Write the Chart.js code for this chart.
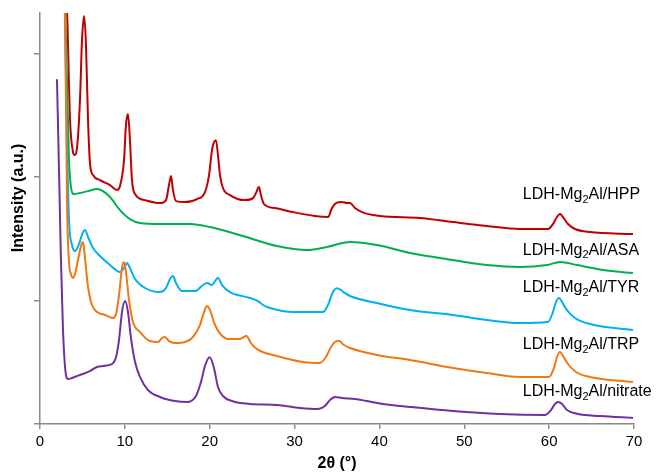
<!DOCTYPE html>
<html>
<head>
<meta charset="utf-8">
<script src="https://cdn.jsdelivr.net/npm/chart.js@4.4.1/dist/chart.umd.min.js"></script>
<style>
  html, body { margin: 0; padding: 0; background: #fff; }
  #wrap { width: 656px; height: 473px; }
</style>
</head>
<body>
<div id="wrap"><canvas id="xrdChart" width="656" height="473"></canvas></div>
<script>
// XRD patterns, [2theta (deg), intensity (a.u., stacked offsets included)]
const hpp = [
    [2.95, 3500], [3.18, 3353], [3.54, 2462], [3.89, 2203], [4.07, 2179], [4.36, 2236],
    [4.71, 2624], [4.95, 3110], [5.19, 3305], [5.42, 3070], [5.66, 2462], [5.89, 2114],
    [6.25, 2017], [7.07, 1976], [8.25, 1936], [9.07, 1895], [9.43, 1928], [9.9, 2138],
    [10.13, 2422], [10.37, 2511], [10.6, 2300], [10.84, 1976], [11.2, 1863], [12.37, 1814],
    [14.14, 1790], [14.85, 1814], [15.2, 1936], [15.44, 2009], [15.67, 1895], [16.03, 1806],
    [17.09, 1798], [18.5, 1822], [19.44, 1879], [19.92, 2017], [20.27, 2219], [20.5, 2284],
    [20.74, 2300], [20.97, 2179], [21.21, 2017], [21.56, 1912], [22.39, 1855], [24.16, 1814],
    [25.1, 1830], [25.45, 1871], [25.8, 1920], [26.04, 1855], [26.4, 1782], [27.69, 1750],
    [29.81, 1717], [32.4, 1685], [33.94, 1677], [34.41, 1750], [34.88, 1790], [35.59, 1798],
    [36.18, 1790], [36.53, 1790], [37.12, 1750], [37.95, 1717], [40.07, 1685], [44.78, 1669],
    [48.67, 1636], [52.67, 1604], [56.56, 1580], [59.86, 1580], [60.45, 1620], [60.92, 1677],
    [61.28, 1701], [61.63, 1677], [62.22, 1620], [63.05, 1580], [64.81, 1555], [69.88, 1539]
];
const asa = [
    [2.95, 3394], [3.18, 2786], [3.42, 2138], [3.65, 1920], [4.0, 1863], [4.71, 1871],
    [5.66, 1887], [6.72, 1904], [7.42, 1887], [8.25, 1839], [9.43, 1733], [10.6, 1660],
    [11.78, 1628], [14.14, 1620], [17.68, 1620], [20.03, 1596], [23.92, 1523], [27.93, 1442],
    [31.46, 1409], [33.82, 1434], [36.53, 1474], [39.71, 1450], [43.6, 1385], [47.14, 1345],
    [52.67, 1288], [56.56, 1272], [59.75, 1288], [61.28, 1312], [63.28, 1288], [66.34, 1247],
    [69.88, 1223]
];
const tyr = [
    [2.9, 3450], [3.18, 2301], [3.42, 1653], [3.77, 1450], [4.12, 1401], [4.6, 1458],
    [5.07, 1555], [5.3, 1571], [5.66, 1515], [6.25, 1426], [7.07, 1361], [8.25, 1288],
    [9.43, 1231], [9.9, 1264], [10.25, 1304], [10.6, 1264], [11.2, 1175], [12.37, 1102],
    [14.14, 1069], [14.85, 1102], [15.32, 1175], [15.67, 1199], [16.03, 1142], [16.73, 1077],
    [18.27, 1077], [19.21, 1126], [19.68, 1142], [20.27, 1126], [20.62, 1158], [20.98, 1183],
    [21.45, 1126], [22.39, 1069], [24.75, 1021], [25.69, 996], [26.28, 964], [27.1, 940],
    [29.81, 907], [33.35, 907], [33.94, 964], [34.41, 1053], [34.95, 1100], [35.4, 1088],
    [35.9, 1062], [36.53, 1037], [39.71, 980], [43.6, 923], [48.67, 883], [52.67, 842],
    [56.56, 818], [59.86, 826], [60.45, 907], [60.8, 988], [61.16, 1021], [61.52, 988],
    [62.1, 923], [63.05, 859], [64.81, 810], [69.88, 761]
];
const trp = [
    [2.95, 3450], [3.18, 1815], [3.42, 1312], [3.65, 1215], [3.89, 1183], [4.12, 1215],
    [4.48, 1328], [4.83, 1442], [5.07, 1474], [5.3, 1345], [5.66, 1110], [6.13, 964],
    [6.72, 907], [7.66, 883], [8.6, 859], [8.96, 891], [9.31, 1045], [9.66, 1264],
    [9.9, 1312], [10.13, 1231], [10.49, 1004], [10.96, 826], [11.78, 745], [12.96, 672],
    [13.91, 664], [14.38, 697], [14.73, 705], [15.2, 672], [15.91, 656], [17.09, 664],
    [18.03, 705], [18.85, 802], [19.33, 907], [19.68, 956], [20.03, 923], [20.5, 826],
    [21.09, 745], [22.15, 689], [23.57, 689], [24.04, 705], [24.3, 716], [24.86, 656],
    [25.57, 607], [27.93, 551], [31.0, 502], [32.99, 494], [33.7, 543], [34.29, 624],
    [34.76, 664], [35.2, 675], [35.82, 640], [36.53, 616], [39.71, 559], [43.6, 518],
    [48.67, 454], [52.67, 413], [56.56, 381], [59.98, 381], [60.57, 454], [60.92, 543],
    [61.28, 583], [61.63, 551], [62.22, 486], [63.16, 421], [64.81, 381], [69.88, 340]
];
const nitrate = [
    [2.0, 2794], [2.24, 2057], [2.47, 1328], [2.71, 761], [3.06, 397], [3.3, 364],
    [3.77, 373], [4.71, 397], [5.89, 429], [6.72, 462], [7.42, 470], [8.48, 486],
    [8.96, 543], [9.31, 680], [9.66, 907], [10.02, 996], [10.37, 907], [10.72, 697],
    [11.2, 502], [11.78, 381], [12.73, 275], [14.14, 219], [15.91, 186], [17.32, 178],
    [18.38, 227], [18.97, 340], [19.44, 470], [20.0, 540], [20.5, 454],
    [20.97, 300], [21.56, 227], [22.63, 186], [24.75, 162], [27.93, 154], [30.64, 130],
    [32.76, 122], [33.58, 146], [34.17, 194], [34.76, 219], [35.59, 211], [37.12, 203],
    [38.53, 186], [40.42, 162], [43.6, 138], [48.67, 105], [54.21, 81], [59.51, 73],
    [60.22, 113], [60.69, 162], [61.04, 178], [61.52, 162], [62.1, 113], [63.4, 81],
    [66.0, 65], [69.88, 49]
];

const sampleNames = ['HPP', 'ASA', 'TYR', 'TRP', 'nitrate'];
const sampleData = [hpp, asa, tyr, trp, nitrate];
const sampleColors = ['#C00000', '#00B050', '#00B0F0', '#F07814', '#7030A0'];
// where each name sits, in axis units [2theta, intensity]
const labelAt = [[56.9, 1855], [56.9, 1409], [56.9, 1102], [56.9, 640], [56.9, 259]];

const xTicks = [0, 10, 20, 30, 40, 50, 60, 70];
const yTicks = [0, 1000, 2000, 3000];

const FONT = '"Liberation Sans", Arial, Helvetica, sans-serif';
const AXIS_GREY = '#8a8a8a';

// draw bottom series first so the upper ones stay on top
const datasets = sampleNames.map((name, i) => ({
    label: 'LDH-Mg\u2082Al/' + name,
    data: sampleData[i].map(p => ({ x: p[0], y: p[1] })),
    borderColor: sampleColors[i],
    borderWidth: 2,
    pointRadius: 0,
    cubicInterpolationMode: 'monotone',
    fill: false
})).reverse();

const sampleLabels = {
    id: 'sampleLabels',
    afterDatasetsDraw(chart) {
        const { ctx, scales } = chart;
        ctx.save();
        ctx.fillStyle = '#000';
        ctx.textBaseline = 'middle';
        ctx.textAlign = 'left';
        sampleNames.forEach((name, i) => {
            let x = scales.x.getPixelForValue(labelAt[i][0]);
            const y = scales.y.getPixelForValue(labelAt[i][1]);
            ctx.font = '16px ' + FONT;
            ctx.fillText('LDH-Mg', x, y);
            x += ctx.measureText('LDH-Mg').width;
            ctx.font = '11px ' + FONT;
            ctx.fillText('2', x, y + 5);
            x += ctx.measureText('2').width;
            ctx.font = '16px ' + FONT;
            ctx.fillText('Al/' + name, x, y);
        });
        ctx.restore();
    }
};

const yTitle = {
    id: 'yTitle',
    afterDraw(chart) {
        const { ctx, chartArea } = chart;
        ctx.save();
        ctx.translate(19, chartArea.top + (chartArea.bottom - chartArea.top) * 0.45);
        ctx.rotate(-Math.PI / 2);
        ctx.font = 'bold 16px ' + FONT;
        ctx.fillStyle = '#000';
        ctx.textAlign = 'center';
        ctx.textBaseline = 'middle';
        ctx.fillText('Intensity (a.u.)', 0, 0);
        ctx.restore();
    }
};

const ctx = document.getElementById('xrdChart').getContext('2d');
new Chart(ctx, {
    type: 'line',
    data: { datasets: datasets },
    options: {
        responsive: false,
        animation: false,
        layout: { padding: { top: 13, right: 22, left: 0, bottom: 0 } },
        plugins: {
            legend: { display: false },
            tooltip: { enabled: false }
        },
        scales: {
            x: {
                type: 'linear',
                min: 0,
                max: 70,
                afterBuildTicks: scale => { scale.ticks = xTicks.map(v => ({ value: v })); },
                afterFit: scale => { scale.height = 49; },
                ticks: {
                    color: '#000',
                    font: { family: FONT, size: 15 },
                    padding: 4,
                    maxRotation: 0
                },
                grid: { drawOnChartArea: false, tickLength: 5, color: AXIS_GREY, lineWidth: 1.5 },
                border: { color: AXIS_GREY, width: 1.5 },
                title: {
                    display: true,
                    text: '2\u03b8 (\u00b0)',
                    color: '#000',
                    font: { family: FONT, size: 16, weight: 'bold' },
                    padding: { top: 2, bottom: 0 }
                }
            },
            y: {
                min: 0,
                max: 3330,
                afterBuildTicks: scale => { scale.ticks = yTicks.map(v => ({ value: v })); },
                afterFit: scale => { scale.width = 40; },
                ticks: { callback: () => '' },
                grid: { drawOnChartArea: false, tickLength: 6, color: AXIS_GREY, lineWidth: 1.5 },
                border: { color: AXIS_GREY, width: 1.5 }
            }
        }
    },
    plugins: [sampleLabels, yTitle]
});
</script>
</body>
</html>
